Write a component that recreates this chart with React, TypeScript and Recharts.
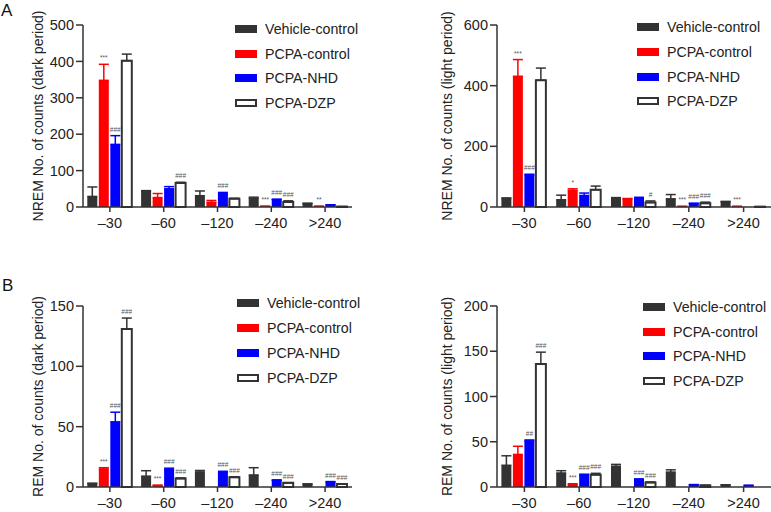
import React from 'react';
import { BarChart, Bar, XAxis, YAxis, ErrorBar, LabelList, Legend } from 'recharts';

const FONT = '"Liberation Sans", Arial, Helvetica, sans-serif';

const categories = ['–30', '–60', '–120', '–240', '>240'];

// A left: NREM, dark period
const nremDarkVehicle = [29, 43, 31, 24, 10];
const nremDarkVehicleErr = [26, 2, 13, 3, 0];
const nremDarkPcpa = [348, 26, 13, 2, 2];
const nremDarkPcpaErr = [44, 11, 5, 0, 0];
const nremDarkNhd = [172, 50, 37, 21, 6];
const nremDarkNhdErr = [24, 6, 3, 0, 0];
const nremDarkDzp = [402, 66, 23, 14, 1];
const nremDarkDzpErr = [18, 2, 1, 3, 0];
const nremDarkPcpaSig = ['***', '', '', '***', '**'];
const nremDarkNhdSig = ['###', '', '###', '###', ''];
const nremDarkDzpSig = ['', '###', '', '###', ''];

// A right: NREM, light period
const nremLightVehicle = [28, 24, 28, 27, 18];
const nremLightVehicleErr = [2, 15, 3, 14, 0];
const nremLightPcpa = [431, 55, 27, 2, 2];
const nremLightPcpaErr = [55, 5, 1, 0, 0];
const nremLightNhd = [105, 38, 30, 12, 0];
const nremLightNhdErr = [3, 8, 2, 0, 0];
const nremLightDzp = [418, 57, 15, 12, 1];
const nremLightDzpErr = [40, 12, 5, 4, 0];
const nremLightPcpaSig = ['***', '*', '', '***', '***'];
const nremLightNhdSig = ['###', '', '', '###', ''];
const nremLightDzpSig = ['', '', '#', '###', ''];

// B left: REM, dark period
const remDarkVehicle = [3, 9, 12.5, 10, 2.5];
const remDarkVehicleErr = [0, 4.5, 1.2, 6, 0];
const remDarkPcpa = [15, 1.4, 0, 0, 0];
const remDarkPcpaErr = [1, 0, 0, 0, 0];
const remDarkNhd = [54, 14.6, 12, 5.8, 4];
const remDarkNhdErr = [8, 1, 1, 0, 0.5];
const remDarkDzp = [131, 7, 8, 3.5, 2.5];
const remDarkDzpErr = [9, 0.5, 0.5, 0, 0];
const remDarkPcpaSig = ['***', '***', '***', '**', '***'];
const remDarkNhdSig = ['###', '###', '###', '###', '###'];
const remDarkDzpSig = ['###', '###', '###', '###', '###'];

// B right: REM, light period
const remLightVehicle = [24, 15.5, 23, 16.5, 2.5];
const remLightVehicleErr = [10.5, 2.5, 2, 2.5, 0];
const remLightPcpa = [36, 2.6, 0, 0, 0];
const remLightPcpaErr = [9, 1, 0, 0, 0];
const remLightNhd = [51, 13.6, 8.8, 2.6, 1.8];
const remLightNhdErr = [1, 0.5, 0, 0, 0];
const remLightDzp = [136, 13.6, 5, 1.8, 0];
const remLightDzpErr = [13, 1.5, 0.5, 0, 0];
const remLightPcpaSig = ['', '***', '***', '***', ''];
const remLightNhdSig = ['##', '###', '###', '', ''];
const remLightDzpSig = ['###', '###', '###', '', ''];

const noSig = ['', '', '', '', ''];

const SERIES = [
  { key: 'vehicle', name: 'Vehicle-control', fill: '#333333', line: '#333333', outline: '' },
  { key: 'pcpa', name: 'PCPA-control', fill: '#ff0000', line: '#ff0000', outline: '' },
  { key: 'nhd', name: 'PCPA-NHD', fill: '#0000ff', line: '#0000ff', outline: '' },
  { key: 'dzp', name: 'PCPA-DZP', fill: '#ffffff', line: '#333333', outline: '#333333' },
];

function makeRows(means: number[][], errs: number[][], sigs: string[][]) {
  return categories.map((cat, i) => {
    const row: any = { cat };
    SERIES.forEach((s, j) => {
      row[s.key] = means[j][i];
      row[s.key + 'Err'] = [0, errs[j][i]];
      row[s.key + 'Sig'] = sigs[j][i];
    });
    return row;
  });
}

// significance marks sit just above the top of the error bar
const sigLabel = (rows: any[], key: string) => (p: any) => {
  const row = rows[p.index];
  if (!row || !row[key + 'Sig']) return null;
  const vb = p.viewBox || p;
  const x = vb.x ?? p.x;
  const y = vb.y ?? p.y;
  const w = vb.width ?? p.width;
  const h = Math.abs(vb.height ?? p.height ?? 0);
  const v = row[key];
  const ppu = v > 0 ? h / v : 0;
  const top = y - row[key + 'Err'][1] * ppu;
  return (
    <text x={x + w / 2} y={top - 4} textAnchor="middle" fontSize={6.5} fill="#555" fontFamily={FONT}>
      {row[key + 'Sig']}
    </text>
  );
};

const LegendRows = ({ gap }: { gap: number }) => (
  <div style={{ fontFamily: FONT, fontSize: 14.2, color: '#222' }}>
    {SERIES.map((s) => (
      <div key={s.key} style={{ display: 'flex', alignItems: 'center', height: gap, whiteSpace: 'nowrap' }}>
        <span
          style={{
            display: 'inline-block',
            width: 22,
            height: 8,
            boxSizing: 'border-box',
            background: s.fill,
            border: s.outline ? `2px solid ${s.outline}` : 'none',
            marginRight: 8,
          }}
        />
        <span>{s.name}</span>
      </div>
    ))}
  </div>
);

function Panel(props: any) {
  const { rows, domain, ticks, yLabel, box, margin, legendAt, labelOffset } = props;
  return (
    <div style={{ position: 'absolute', left: box.left, top: box.top }}>
      <BarChart
        width={box.width}
        height={box.height}
        data={rows}
        margin={margin}
        barCategoryGap="8%"
        barGap={1.5}
        style={{ fontFamily: FONT }}
      >
        <XAxis
          dataKey="cat"
          height={25}
          tickSize={5}
          tickMargin={6}
          axisLine={{ stroke: '#333', strokeWidth: 1.5 }}
          tickLine={{ stroke: '#333', strokeWidth: 1.5 }}
          tick={{ fill: '#222', fontSize: 14.5 }}
        />
        <YAxis
          width={60}
          domain={domain}
          ticks={ticks}
          tickSize={7}
          tickMargin={2}
          axisLine={{ stroke: '#333', strokeWidth: 1.5 }}
          tickLine={{ stroke: '#333', strokeWidth: 1.5 }}
          tick={{ fill: '#222', fontSize: 14.5 }}
          label={{
            value: yLabel,
            angle: -90,
            position: 'insideLeft',
            offset: labelOffset,
            fontSize: 14,
            style: { textAnchor: 'middle', fill: '#222', fontSize: 14 },
          }}
        />
        <Legend
          layout="vertical"
          align="center"
          verticalAlign="middle"
          wrapperStyle={{ left: legendAt.left, top: legendAt.top, width: 150 }}
          content={() => <LegendRows gap={legendAt.gap} />}
        />
        {SERIES.map((s) => (
          <Bar
            key={s.key}
            dataKey={s.key}
            name={s.name}
            fill={s.fill}
            stroke={s.outline || 'none'}
            strokeWidth={s.outline ? 2 : 0}
            isAnimationActive={false}
          >
            <ErrorBar dataKey={s.key + 'Err'} width={5} stroke={s.line} strokeWidth={1.5} direction="y" />
            <LabelList dataKey={s.key + 'Sig'} content={sigLabel(rows, s.key)} />
          </Bar>
        ))}
      </BarChart>
    </div>
  );
}

const nremDarkRows = makeRows(
  [nremDarkVehicle, nremDarkPcpa, nremDarkNhd, nremDarkDzp],
  [nremDarkVehicleErr, nremDarkPcpaErr, nremDarkNhdErr, nremDarkDzpErr],
  [noSig, nremDarkPcpaSig, nremDarkNhdSig, nremDarkDzpSig]
);
const nremLightRows = makeRows(
  [nremLightVehicle, nremLightPcpa, nremLightNhd, nremLightDzp],
  [nremLightVehicleErr, nremLightPcpaErr, nremLightNhdErr, nremLightDzpErr],
  [noSig, nremLightPcpaSig, nremLightNhdSig, nremLightDzpSig]
);
const remDarkRows = makeRows(
  [remDarkVehicle, remDarkPcpa, remDarkNhd, remDarkDzp],
  [remDarkVehicleErr, remDarkPcpaErr, remDarkNhdErr, remDarkDzpErr],
  [noSig, remDarkPcpaSig, remDarkNhdSig, remDarkDzpSig]
);
const remLightRows = makeRows(
  [remLightVehicle, remLightPcpa, remLightNhd, remLightDzp],
  [remLightVehicleErr, remLightPcpaErr, remLightNhdErr, remLightDzpErr],
  [noSig, remLightPcpaSig, remLightNhdSig, remLightDzpSig]
);

export default function App() {
  return (
    <div style={{ position: 'absolute', left: 0, top: 0, width: 771, height: 512, background: '#fff', overflow: 'hidden', fontFamily: FONT }}>
      <div style={{ position: 'absolute', left: 1, top: 1, fontSize: 17, color: '#111', lineHeight: '20px' }}>A</div>
      <div style={{ position: 'absolute', left: 2, top: 276, fontSize: 17, color: '#111', lineHeight: '20px' }}>B</div>
      <Panel
        rows={nremDarkRows}
        domain={[0, 500]}
        ticks={[0, 100, 200, 300, 400, 500]}
        yLabel="NREM No. of counts (dark period)"
        box={{ left: 0, top: 0, width: 390, height: 240 }}
        margin={{ top: 25, right: 38, bottom: 8, left: 23 }}
        legendAt={{ left: 235, top: 17, gap: 24.5 }}
        labelOffset={15}
      />
      <Panel
        rows={nremLightRows}
        domain={[0, 600]}
        ticks={[0, 200, 400, 600]}
        yLabel="NREM No. of counts (light period)"
        box={{ left: 390, top: 0, width: 381, height: 240 }}
        margin={{ top: 25, right: 0, bottom: 8, left: 47 }}
        legendAt={{ left: 247, top: 15, gap: 24.7 }}
        labelOffset={10}
      />
      <Panel
        rows={remDarkRows}
        domain={[0, 150]}
        ticks={[0, 50, 100, 150]}
        yLabel="REM No. of counts (dark period)"
        box={{ left: 0, top: 250, width: 390, height: 262 }}
        margin={{ top: 56, right: 38, bottom: 0, left: 23 }}
        legendAt={{ left: 237, top: 40.5, gap: 25 }}
        labelOffset={15}
      />
      <Panel
        rows={remLightRows}
        domain={[0, 200]}
        ticks={[0, 50, 100, 150, 200]}
        yLabel="REM No. of counts (light period)"
        box={{ left: 390, top: 250, width: 381, height: 262 }}
        margin={{ top: 56, right: 0, bottom: 0, left: 47 }}
        legendAt={{ left: 253, top: 44.5, gap: 24.7 }}
        labelOffset={10}
      />
    </div>
  );
}
